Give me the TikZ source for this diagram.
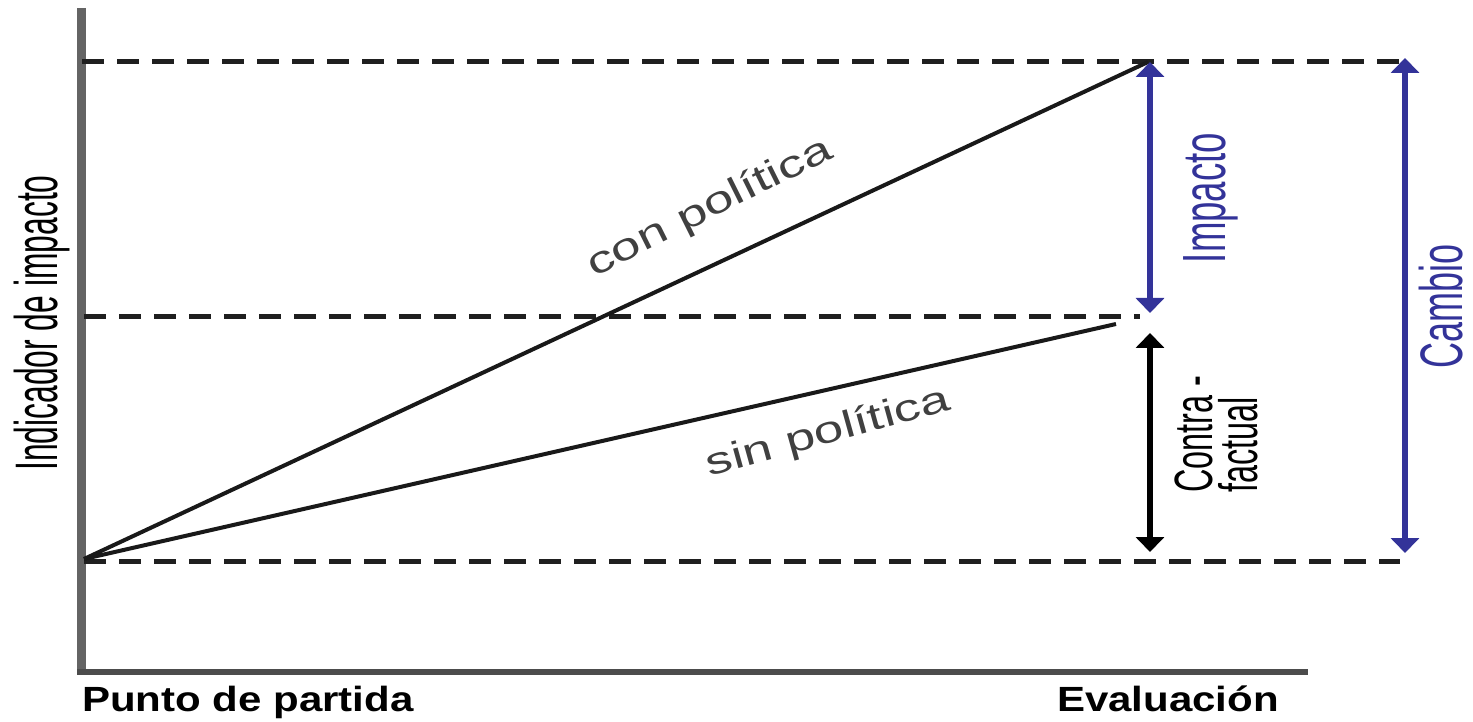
\documentclass[tikz,border=0pt]{standalone}
\usepackage{fontspec}
\setmainfont{Liberation Sans}
\newfontfamily\condfont[FakeStretch=0.6]{Liberation Sans}
\newfontfamily\ylabfont[FakeStretch=0.53]{Liberation Sans}
\newfontfamily\widefont[FakeStretch=1.2]{Liberation Sans}
\newfontfamily\slantfont[FakeStretch=1.4]{Liberation Sans}
\usetikzlibrary{arrows.meta}
\definecolor{cambioblue}{RGB}{51,51,153}
\definecolor{axisgray}{RGB}{100,100,100}
\tikzset{
	guide/.style={line width=5pt, color=black!88, dash pattern=on 22pt off 13pt},
	trend/.style={line width=4pt, color=black!90},
	span/.style={line width=6pt, {Triangle[width=28pt,length=15pt]}-{Triangle[width=28pt,length=15pt]}},
	lbl/.style={inner sep=0pt}
}

\begin{document}
\begin{tikzpicture}[x=1pt, y=1pt]
			%%%%% START %%%%%
			\useasboundingbox (0, 0) rectangle (1473, 721);
			
			\coordinate (o) at (84, 162);
			\coordinate (con) at (1148, 659);
			\coordinate (sin) at (1116, 397);
			
			% axes
			\draw[line width=9pt, color=axisgray] (81, 713) -- (81, 49);
			\draw[line width=6pt, color=black!70] (77, 49) -- (1308, 49);
			
			% dashed levels
			\draw[guide] (82, 659) -- (1410, 659);
			\draw[guide] (84, 404) -- (1140, 404);
			\draw[guide] (84, 160) -- (1400, 160);
			
			% trends
			\draw[trend] (o) -- (con);
			\draw[trend] (o) -- (sin);
			\node[lbl, color=black!75, rotate=26.5] (conlbl) at (710, 513) {\slantfont\fontsize{38}{42}\selectfont con política};
			\node[lbl, color=black!75, rotate=15.5] (sinlbl) at (828, 288) {\slantfont\fontsize{38}{42}\selectfont sin política};
			
			% vertical spans
			\coordinate (imptop) at (1150, 659);
			\coordinate (impbot) at (1150, 408);
			\coordinate (cftop) at (1150, 388);
			\coordinate (cfbot) at (1150, 169);
			\coordinate (cbtop) at (1405, 663);
			\coordinate (cbbot) at (1405, 168);
			\draw[span, color=cambioblue] (imptop) -- (impbot);
			\draw[span, color=black] (cftop) -- (cfbot);
			\draw[span, color=cambioblue] (cbtop) -- (cbbot);
			
			\node[lbl, color=cambioblue, rotate=90] (implbl) at (1211, 523) {\condfont\fontsize{61}{66}\selectfont Impacto};
			\node[lbl, color=cambioblue, rotate=90] (cblbl) at (1441, 415) {\condfont\fontsize{60}{66}\selectfont Cambio};
			\node[lbl, rotate=90, align=left, font=\condfont\fontsize{54}{45}\selectfont] (cflbl) at (1216, 287) {Contra -\\factual};
			
			% axis labels
			\node[lbl, rotate=90] (ylbl) at (42, 398) {\ylabfont\fontsize{60}{64}\selectfont Indicador de impacto};
			\node[lbl, anchor=base west] (start) at (82, 10) {\widefont\bfseries\fontsize{35}{40}\selectfont Punto de partida};
			\node[lbl, anchor=base west] (eval) at (1057, 10) {\widefont\bfseries\fontsize{35}{40}\selectfont Evaluación};
			%%%%% END %%%%%
\end{tikzpicture}
\end{document}
